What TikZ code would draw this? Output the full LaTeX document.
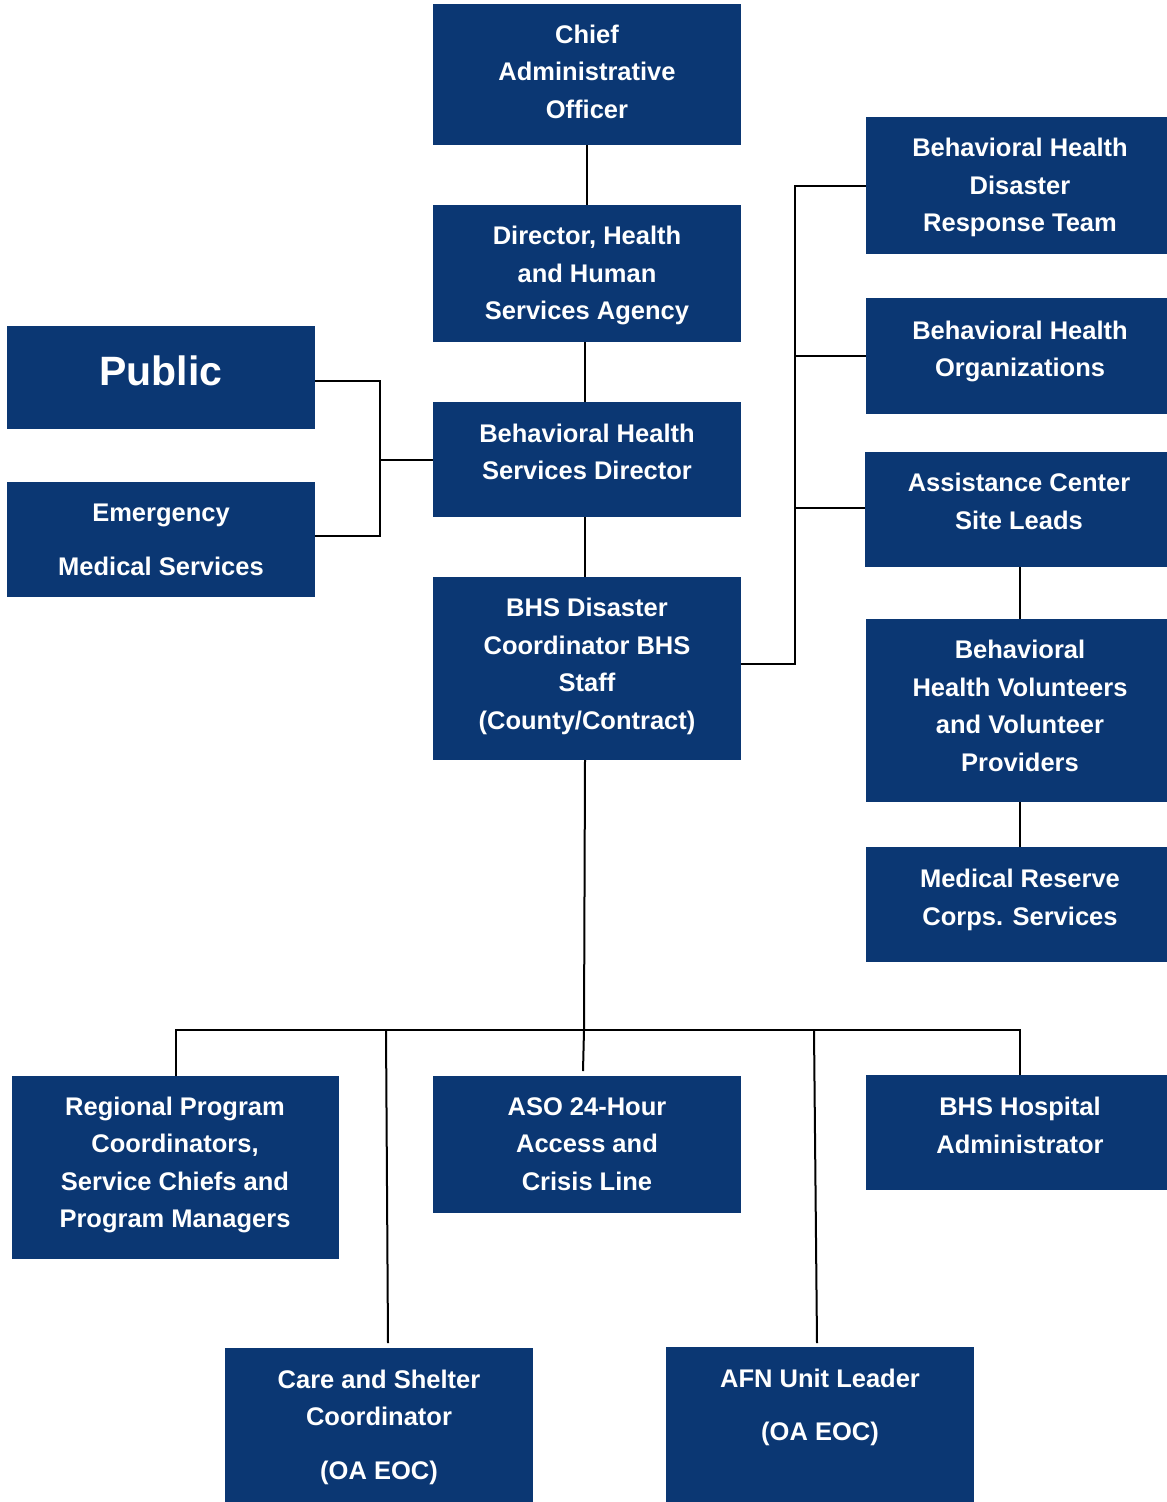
\documentclass[tikz,border=0pt]{standalone}
\usepackage{fontspec}
\setmainfont{Liberation Sans}
\definecolor{boxblue}{HTML}{0B3773}
\begin{document}
\begin{tikzpicture}[x=1pt,y=-1pt,
  box/.style={fill=boxblue,draw=none,inner sep=0pt,outer sep=0pt,rectangle},
  txt/.style={text=white,font=\fontsize{25.5}{37.5}\selectfont\bfseries,align=center,inner sep=0pt,text depth=0pt,anchor=center},
  bigtxt/.style={text=white,font=\fontsize{41}{48}\selectfont\bfseries,align=center,inner sep=0pt,text depth=0pt,anchor=center},
  conn/.style={draw=black,line width=2pt}]
\useasboundingbox (0,0) rectangle (1167,1502);
% boxes
\node[box,minimum width=308pt,minimum height=141pt] (cao) at (587,74.5) {};
\node[box,minimum width=308pt,minimum height=137pt] (dir) at (587,273.5) {};
\node[box,minimum width=308pt,minimum height=115pt] (bhsd) at (587,459.5) {};
\node[box,minimum width=308pt,minimum height=183pt] (coord) at (587,668.5) {};
\node[box,minimum width=308pt,minimum height=103pt] (pub) at (161,377.5) {};
\node[box,minimum width=308pt,minimum height=115pt] (ems) at (161,539.5) {};
\node[box,minimum width=301pt,minimum height=137pt] (drt) at (1016.5,185.5) {};
\node[box,minimum width=301pt,minimum height=116pt] (org) at (1016.5,356) {};
\node[box,minimum width=302pt,minimum height=115pt] (leads) at (1016,509.5) {};
\node[box,minimum width=301pt,minimum height=183pt] (vol) at (1016.5,710.5) {};
\node[box,minimum width=301pt,minimum height=115pt] (mrc) at (1016.5,904.5) {};
\node[box,minimum width=327pt,minimum height=183pt] (reg) at (175.5,1167.5) {};
\node[box,minimum width=308pt,minimum height=137pt] (aso) at (587,1144.5) {};
\node[box,minimum width=301pt,minimum height=115pt] (hosp) at (1016.5,1132.5) {};
\node[box,minimum width=308pt,minimum height=154pt] (care) at (379,1425) {};
\node[box,minimum width=308pt,minimum height=155pt] (afn) at (820,1424.5) {};
% texts
\node[txt] (cao-t) at (587,71.5) {Chief\\Administrative\\Officer};
\node[txt] (dir-t) at (587,273) {Director, Health\\and Human\\Services Agency};
\node[txt] (bhsd-t) at (587,452) {Behavioral Health\\Services Director};
\node[txt] (coord-t) at (587,664) {BHS Disaster\\Coordinator BHS\\Staff\\(County/Contract)};
\node[bigtxt] (pub-t) at (161,371) {Public};
\node[txt] (ems-t) at (161,540) {Emergency\\[16.5pt]Medical Services};
\node[txt] (drt-t) at (1020,185) {Behavioral Health\\Disaster\\Response Team};
\node[txt] (org-t) at (1020,349) {Behavioral Health\\Organizations};
\node[txt] (leads-t) at (1019,501.5) {Assistance Center\\Site Leads};
\node[txt] (vol-t) at (1020,706) {Behavioral\\Health Volunteers\\and Volunteer\\Providers};
\node[txt] (mrc-t) at (1020,897) {Medical Reserve\\Corps. Services};
\node[txt] (reg-t) at (175,1162) {Regional Program\\Coordinators,\\Service Chiefs and\\Program Managers};
\node[txt] (aso-t) at (587,1144) {ASO 24-Hour\\Access and\\Crisis Line};
\node[txt] (hosp-t) at (1020,1125) {BHS Hospital\\Administrator};
\node[txt] (care-t) at (379,1424.5) {Care and Shelter\\Coordinator\\[16.5pt](OA EOC)};
\node[txt] (afn-t) at (820,1404.5) {AFN Unit Leader\\[15.5pt](OA EOC)};
% coordinates
\coordinate (jl) at (380,459.5);
\coordinate (ly1) at (0,381);
\coordinate (ly2) at (0,536);
\coordinate (ry) at (0,664);
\coordinate (ly3) at (0,508);
\coordinate (rbus) at (795,0);
\coordinate (cx) at (585,0);
\coordinate (bmid) at (584,1030);
\coordinate (bl) at (175.5,1030);
\coordinate (br) at (1020,1030);
\coordinate (bc) at (386,1030);
\coordinate (ba) at (814,1030);
\coordinate (asoend) at (583,1071);
\coordinate (careend) at (388,1343);
\coordinate (afnend) at (817,1343);
\coordinate (rx) at (1020,0);
% connectors
\draw[conn] (cao.south) -- (dir.north);
\draw[conn] (dir.south -| cx) -- (bhsd.north -| cx);
\draw[conn] (bhsd.south -| cx) -- (coord.north -| cx);
\draw[conn] (pub.east |- ly1) -| (jl) |- (ems.east |- ly2);
\draw[conn] (jl) -- (bhsd.west);
\draw[conn] (coord.east |- ry) -| (rbus |- drt.west) -- (drt.west);
\draw[conn] (rbus |- org.west) -- (org.west);
\draw[conn] (rbus |- ly3) -- (leads.west |- ly3);
\draw[conn] (rx |- leads.south) -- (rx |- vol.north);
\draw[conn] (rx |- vol.south) -- (rx |- mrc.north);
\draw[conn] (coord.south -| cx) -- (bmid) -- (asoend);
\draw[conn] (reg.north) -- (bl) -- (br) -- (br |- hosp.north);
\draw[conn] (bc) -- (careend);
\draw[conn] (ba) -- (afnend);
\end{tikzpicture}
\end{document}
